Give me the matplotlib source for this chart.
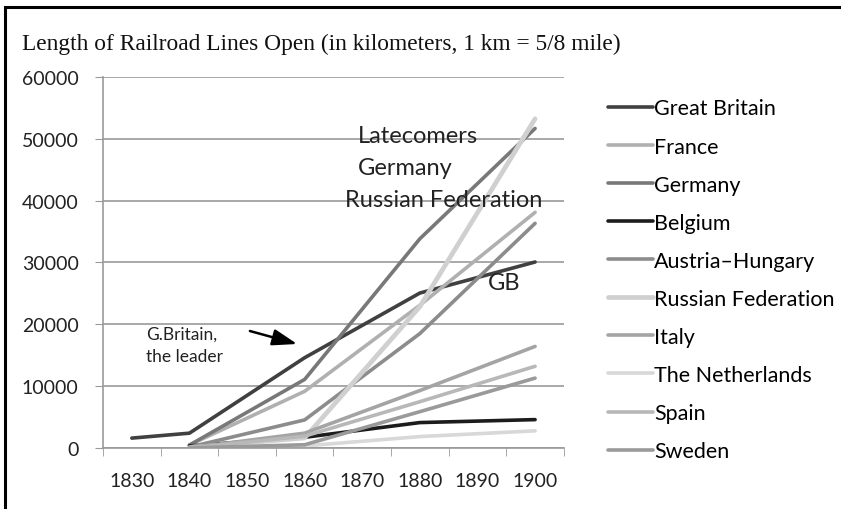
import numpy as np
import matplotlib.pyplot as plt
from matplotlib.patches import Rectangle

# data (km of line open); None = no value for that year
years = ['1830', '1840', '1850', '1860', '1870', '1880', '1890', '1900']
great_britain = [1600, 2400, None, 14600, None, 25060, None, 30079]
france = [None, 496, None, 9167, None, 23089, None, 38109]
germany = [None, 469, None, 11089, None, 33838, None, 51678]
belgium = [None, 334, None, 1730, None, 4112, None, 4591]
austria_hungary = [None, 144, None, 4543, None, 18507, None, 36330]
russia = [None, 27, None, 1626, None, 22865, None, 53234]
italy = [None, 20, None, 2404, None, 9290, None, 16429]
netherlands = [None, 17, None, 335, None, 1846, None, 2776]
spain = [None, 0, None, 1917, None, 7490, None, 13214]
sweden = [None, 0, None, 527, None, 5876, None, 11303]

series = [
    ('Great Britain', great_britain, '#404040', 2.6),
    ('France', france, '#b0b0b0', 2.6),
    ('Germany', germany, '#787878', 2.6),
    ('Belgium', belgium, '#1c1c1c', 2.6),
    ('Austria\u2013Hungary', austria_hungary, '#8c8c8c', 2.6),
    ('Russian Federation', russia, '#d0d0d0', 3.4),
    ('Italy', italy, '#a4a4a4', 2.6),
    ('The Netherlands', netherlands, '#d8d8d8', 2.6),
    ('Spain', spain, '#b8b8b8', 2.6),
    ('Sweden', sweden, '#9a9a9a', 2.6),
]

plt.rcParams['font.family'] = ['Lato', 'DejaVu Sans']

fig = plt.figure(figsize=(8.41, 5.1), dpi=100)
ax = fig.add_axes([0.1225, 0.1196, 0.548, 0.7275])

x = np.arange(len(years))
handles = []
for name, vals, color, lw in series:
    v = np.array([np.nan if a is None else a for a in vals], dtype=float)
    m = ~np.isnan(v)
    ln, = ax.plot(x[m], v[m], color=color, lw=lw, solid_capstyle='round',
                  solid_joinstyle='round', label=name)
    handles.append(ln)

ax.set_xlim(-0.5, len(years) - 0.5)
ax.set_ylim(0, 60000)
ax.set_yticks(range(0, 60001, 10000))
ax.set_xticks(x)
ax.set_xticklabels(years)
ax.set_xticks(np.arange(-0.5, len(years)), minor=True)
ax.tick_params(axis='x', which='major', length=0, pad=17, labelsize=14, labelcolor='#222222')
ax.tick_params(axis='x', which='minor', length=6, color='#999999')
ax.tick_params(axis='y', length=6, color='#999999', labelsize=14, pad=11.5,
               labelcolor='#222222')
ax.grid(axis='y', color='#999999', lw=1.2)
ax.set_axisbelow(True)
for s in ['top', 'right']:
    ax.spines[s].set_visible(False)
for s in ['left', 'bottom']:
    ax.spines[s].set_color('#999999')
    ax.spines[s].set_linewidth(1.2)

fig.text(0.026, 0.912, 'Length of Railroad Lines Open (in kilometers, 1 km = 5/8 mile)',
         family='Liberation Serif', fontsize=16.8, va='center', color='#111111')

# annotations
ax.text(3.93, 49500, 'Latecomers', fontsize=17, va='baseline', color='#222222')
ax.text(3.93, 44300, 'Germany', fontsize=17, va='baseline', color='#222222')
ax.text(3.70, 39140, 'Russian Federation', fontsize=17, va='baseline', color='#222222')
ax.text(6.18, 25700, 'GB', fontsize=17, va='baseline', color='#222222')
ax.text(0.246, 17630, 'G.Britain,', fontsize=12.5, va='baseline', color='#222222')
ax.text(0.246, 14070, 'the leader', fontsize=12.5, va='baseline', color='#222222')
ax.annotate('', xy=(2.87, 16820), xytext=(2.05, 18920),
            arrowprops=dict(arrowstyle='-|>,head_length=1.5,head_width=0.5',
                            color='black', lw=1.8, shrinkA=0, shrinkB=0))

fig.legend(handles=handles, loc='upper left', bbox_to_anchor=(0.723, 0.805),
           frameon=False, fontsize=15.5, handlelength=2.1, handletextpad=0.05,
           labelspacing=0.84, borderaxespad=0, borderpad=0)

# outer frame (right and bottom run off the picture)
fig.patches.append(Rectangle((0.006, -0.1), 1.1, 1.084, transform=fig.transFigure,
                             fill=False, edgecolor='black', lw=2.2))

fig.savefig('out.png', dpi=100)
